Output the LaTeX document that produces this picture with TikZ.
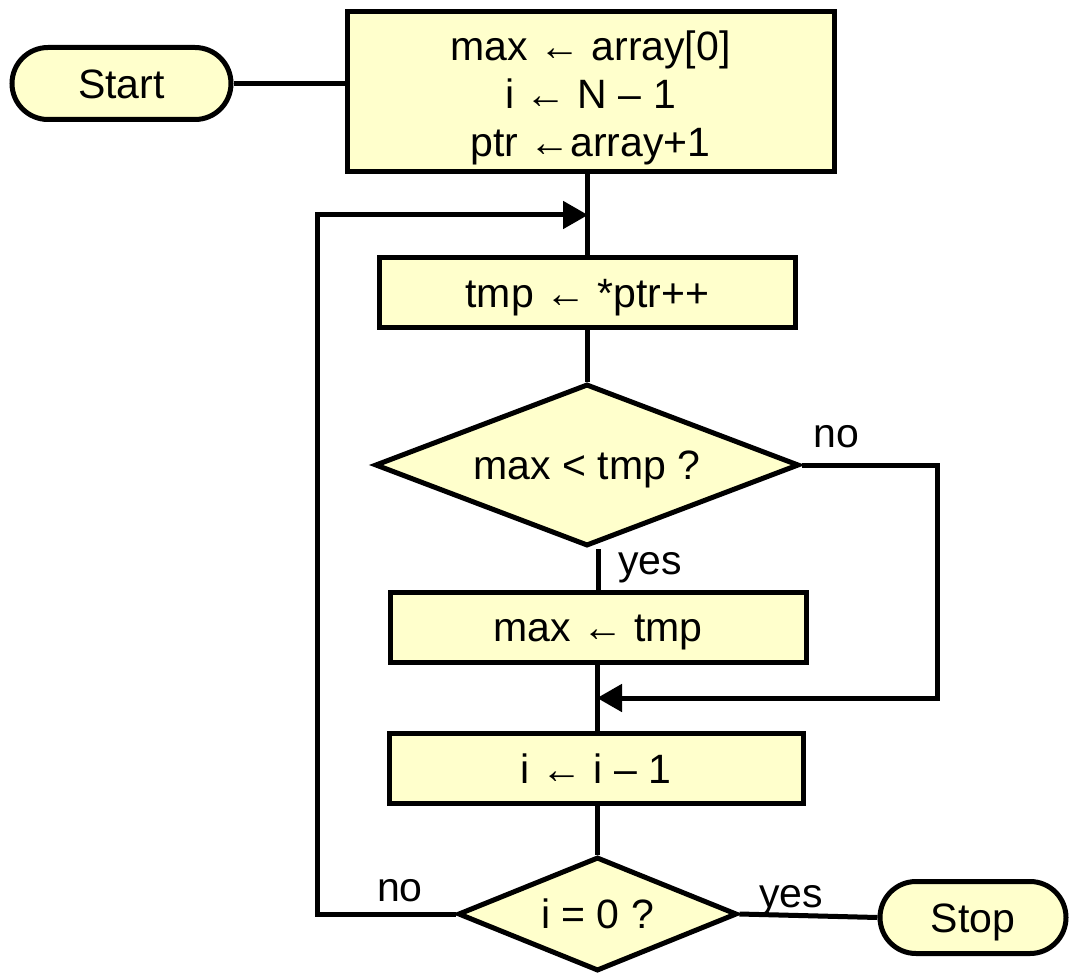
\documentclass[tikz,border=0pt]{standalone}
\usepackage{fontspec}
\setmainfont{Liberation Sans}
\usetikzlibrary{shapes.geometric,arrows.meta}
\definecolor{boxfill}{RGB}{255,255,204}

\begin{document}
\begin{tikzpicture}[x=1pt,y=-1pt,
  every node/.style={font=\fontsize{41}{48}\selectfont, text height=29.5pt, text depth=0pt},
  flow/.style={line width=5pt, line join=miter},
  proc/.style={draw, fill=boxfill, line width=5pt, inner sep=0pt, align=center},
  term/.style={proc, rounded corners=36pt},
  decide/.style={draw, fill=boxfill, line width=5pt, diamond, inner sep=0pt},
  tip/.style={-{Triangle[length=25pt,width=27pt]}}]

  \useasboundingbox (0,0) rectangle (1070,973);

  % terminals
  \node[term, minimum width=219pt, minimum height=72pt] (start) at (121.5,83.5) {Start};
  \node[term, minimum width=186pt, minimum height=72pt] (stop) at (973,917.5) {Stop};

  % initialisation (three lines, baselines 48pt apart)
  \node[proc, minimum width=487pt, minimum height=160pt, text height=131pt] (init) at (590.5,91.5)
    {max ← array[0]\\ i ← N – 1\\ ptr ←array+1};

  % loop body
  \node[proc, minimum width=416pt, minimum height=70pt] (load) at (587.5,292.5) {tmp ← *ptr++};
  \node[decide, shape aspect=2.6, minimum width=424pt, minimum height=162pt] (cmp) at (587,465) {max < tmp ?};
  \node[proc, minimum width=416pt, minimum height=70pt] (upd) at (598,627) {max ← tmp};
  \node[proc, minimum width=414pt, minimum height=70pt] (dec) at (596,768.5) {i ← i – 1};
  \node[decide, shape aspect=2.45, minimum width=279pt, minimum height=114pt] (test) at (597.5,914) {i = 0 ?};

  % junctions
  \coordinate (top) at (588,215);
  \coordinate (mid) at (597,698);
  \coordinate (noR) at (937,465);
  \coordinate (noL) at (317,914);

  % connectors
  \draw[flow] (start.east) -- (init.west |- start.east);
  \draw[flow] (init.south -| load.north) -- (load.north);
  \draw[flow] (load.south) -- (load.south |- cmp.north);
  \draw[flow] (upd.north) -- (upd.north |- cmp.south);
  \draw[flow] (upd.south -| mid) -- (dec.north -| mid);
  \draw[flow] (dec.south -| test.north) -- (test.north);
  \draw[flow] (test.east) -- (stop.west);
  \draw[flow, tip] (cmp.east) -- (noR) -- (noR |- mid) -- (mid);
  \draw[flow, tip] (test.west) -- (noL) -- (noL |- top) -- (top);

  % branch labels
  \node (lno1) at (836,433) {no};
  \node (lyes1) at (650,560) {yes};
  \node (lno2) at (400,887) {no};
  \node (lyes2) at (791,893) {yes};
\end{tikzpicture}
\end{document}
